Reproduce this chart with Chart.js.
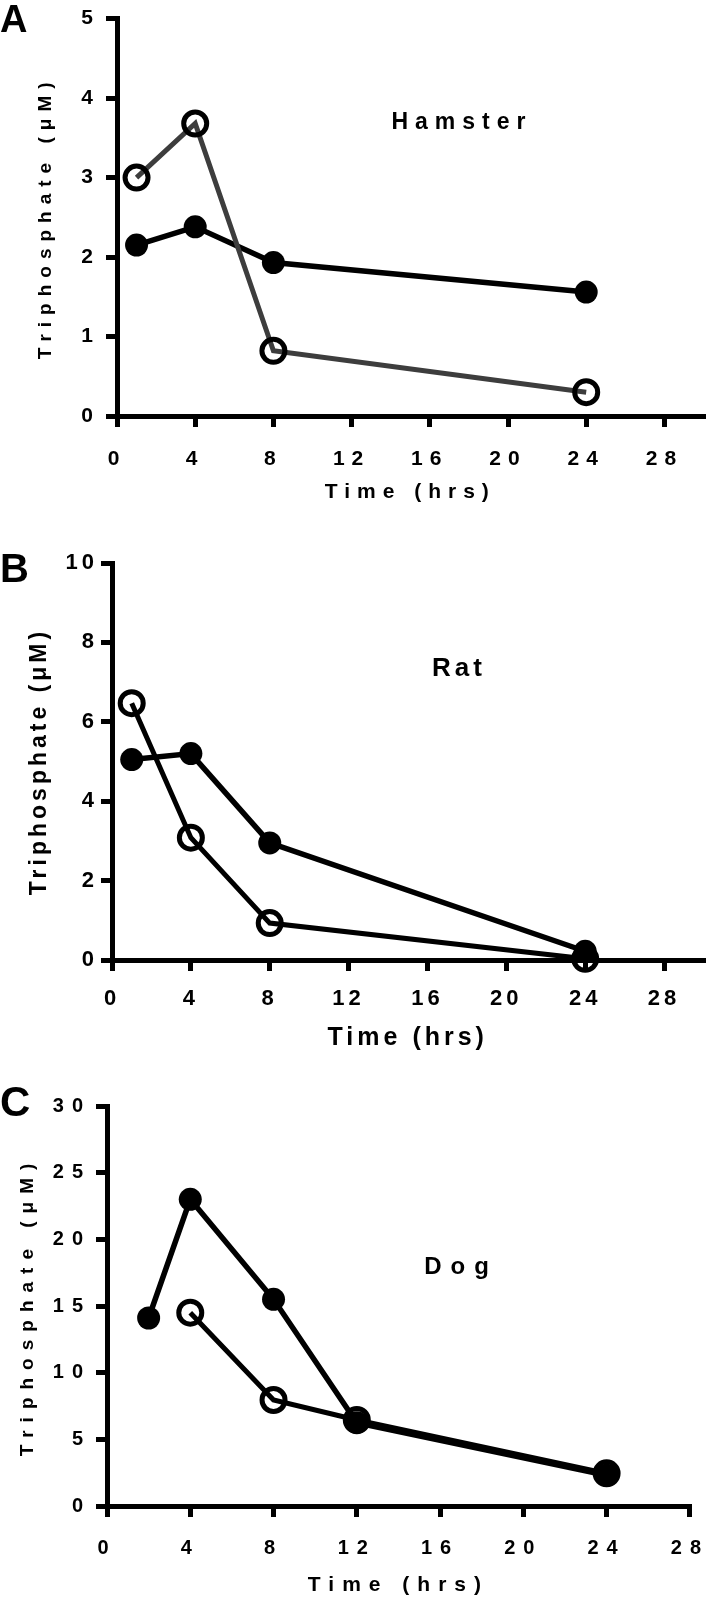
<!DOCTYPE html>
<html>
<head>
<meta charset="utf-8">
<style>
  body { margin: 0; background: #fff; }
  #page { position: relative; width: 720px; height: 1602px; overflow: hidden;
          font-family: 'Liberation Sans', Arial, sans-serif; font-weight: bold; color: #000; }
  .panel { position: absolute; left: 0; width: 720px; }
  .tag { position: absolute; line-height: 1; }
  .animal { position: absolute; width: 400px; text-align: center; line-height: 1; }
</style>
</head>
<body>
<div id="page">
  <div class="panel" style="top:0;height:505px"><canvas id="hamsterChart"></canvas></div>
  <div class="panel" style="top:505px;height:550px"><canvas id="ratChart"></canvas></div>
  <div class="panel" style="top:1055px;height:547px"><canvas id="dogChart"></canvas></div>

  <div class="tag" style="left:0;top:0;font-size:38px">A</div>
  <div class="tag" style="left:0;top:548px;font-size:40px">B</div>
  <div class="tag" style="left:0;top:1081px;font-size:42px">C</div>

  <div class="animal" style="left:262px;top:110px;font-size:23px;letter-spacing:7px">Hamster</div>
  <div class="animal" style="left:259px;top:654px;font-size:26px;letter-spacing:4px">Rat</div>
  <div class="animal" style="left:261px;top:1254px;font-size:24px;letter-spacing:9px">Dog</div>
</div>

<script src="https://cdn.jsdelivr.net/npm/chart.js@4.4.1/dist/chart.umd.min.js"></script>
<script>
// hamster (panel A)
var hamsterTime = [1, 4, 8, 24];
var hamsterFilled = [2.15, 2.38, 1.93, 1.56];
var hamsterOpen = [3.0, 3.68, 0.82, 0.3];
var hamsterYTicks = [0, 1, 2, 3, 4, 5];

// rat (panel B)
var ratTime = [1, 4, 8, 24];
var ratFilled = [5.05, 5.2, 2.95, 0.22];
var ratOpen = [6.47, 3.08, 0.93, 0.03];
var ratYTicks = [0, 2, 4, 6, 8, 10];

// dog (panel C)
var dogFilledTime = [2, 4, 8, 12, 24];
var dogFilled = [14.1, 23.0, 15.5, 6.25, 2.3];
var dogOpenTime = [4, 8, 12, 24];
var dogOpen = [14.5, 7.95, 6.45, 2.45];
var dogYTicks = [0, 5, 10, 15, 20, 25, 30];

var timeTicks = [0, 4, 8, 12, 16, 20, 24, 28];

var FONT = "'Liberation Sans', Arial, sans-serif";

// canvas text has no letter-spacing option in Chart.js, so set it on the context
var spacingPlugin = {
    id: 'spacing',
    beforeDraw: function(chart, args, opts) {
        chart.ctx.letterSpacing = (opts.px || 0) + 'px';
    }
};

function points(xs, ys) {
    return xs.map(function(x, i) { return { x: x, y: ys[i] }; });
}

function filledSeries(xs, ys) {
    return {
        data: points(xs, ys),
        borderColor: '#000', borderWidth: 5.5,
        pointRadius: 11.5, pointBackgroundColor: '#000',
        pointBorderColor: '#000', pointBorderWidth: 0,
        clip: false
    };
}

function openSeries(xs, ys, lineColor) {
    return {
        data: points(xs, ys),
        borderColor: lineColor, borderWidth: 5,
        pointRadius: 11.5, pointBackgroundColor: 'rgba(0,0,0,0)',
        pointBorderColor: '#000', pointBorderWidth: 5,
        clip: false
    };
}

function panelChart(id, datasets, o) {
    var axisGrid = { drawOnChartArea: false, lineWidth: 5, tickLength: 11, tickWidth: 5, tickColor: '#000', color: '#000' };
    return new Chart(document.getElementById(id), {
        type: 'line',
        data: { datasets: datasets },
        options: {
            responsive: true,
            maintainAspectRatio: false,
            animation: false,
            layout: { padding: { top: o.top, right: o.right, left: 0, bottom: 0 } },
            plugins: {
                legend: { display: false },
                tooltip: { enabled: false },
                spacing: { px: o.spacing }
            },
            scales: {
                x: {
                    type: 'linear', min: 0, max: o.xMax,
                    afterBuildTicks: function(s) { s.ticks = timeTicks.map(function(v) { return { value: v }; }); },
                    afterFit: function(s) { s.height = o.xHeight; },
                    ticks: { color: '#000', padding: o.xTickPad, maxRotation: 0, autoSkip: false,
                             font: { family: FONT, size: o.tickSize, weight: 'bold' } },
                    grid: axisGrid,
                    border: { display: true, color: '#000', width: 5 },
                    title: { display: true, text: 'Time (hrs)', color: '#000',
                             font: { family: FONT, size: o.xTitleSize, weight: 'bold' },
                             padding: { top: 0, bottom: o.xTitlePad } }
                },
                y: {
                    min: 0, max: o.yTicks[o.yTicks.length - 1],
                    afterBuildTicks: function(s) { s.ticks = o.yTicks.map(function(v) { return { value: v }; }); },
                    afterFit: function(s) { s.width = o.yWidth; },
                    ticks: { color: '#000', padding: o.yTickPad,
                             font: { family: FONT, size: o.tickSize, weight: 'bold' } },
                    grid: axisGrid,
                    border: { display: true, color: '#000', width: 5 },
                    title: { display: true, text: 'Triphosphate (μM)', color: '#000',
                             font: { family: FONT, size: o.yTitleSize, weight: 'bold' },
                             padding: { top: o.yTitlePad, bottom: 0 } }
                }
            }
        },
        plugins: [spacingPlugin]
    });
}

panelChart('hamsterChart', [
    openSeries(hamsterTime, hamsterOpen, '#3d3d3d'),
    filledSeries(hamsterTime, hamsterFilled)
], {
    top: 15, right: 5, xMax: 30, yTicks: hamsterYTicks,
    yWidth: 117, xHeight: 89, spacing: 7,
    tickSize: 21, xTickPad: 20, yTickPad: 6,
    xTitleSize: 21, xTitlePad: 0, yTitleSize: 19, yTitlePad: 34
});

panelChart('ratChart', [
    openSeries(ratTime, ratOpen, '#000'),
    filledSeries(ratTime, ratFilled)
], {
    top: 58, right: 8, xMax: 30, yTicks: ratYTicks,
    yWidth: 112, xHeight: 95, spacing: 4,
    tickSize: 22, xTickPad: 15, yTickPad: 3,
    xTitleSize: 25, xTitlePad: 2, yTitleSize: 23, yTitlePad: 26
});

panelChart('dogChart', [
    filledSeries(dogFilledTime, dogFilled),
    openSeries(dogOpenTime, dogOpen, '#000')
], {
    top: 51, right: 14, xMax: 28, yTicks: dogYTicks,
    yWidth: 107, xHeight: 96, spacing: 8,
    tickSize: 20, xTickPad: 19, yTickPad: 5,
    xTitleSize: 21, xTitlePad: 4, yTitleSize: 19, yTitlePad: 16
});
</script>
</body>
</html>
